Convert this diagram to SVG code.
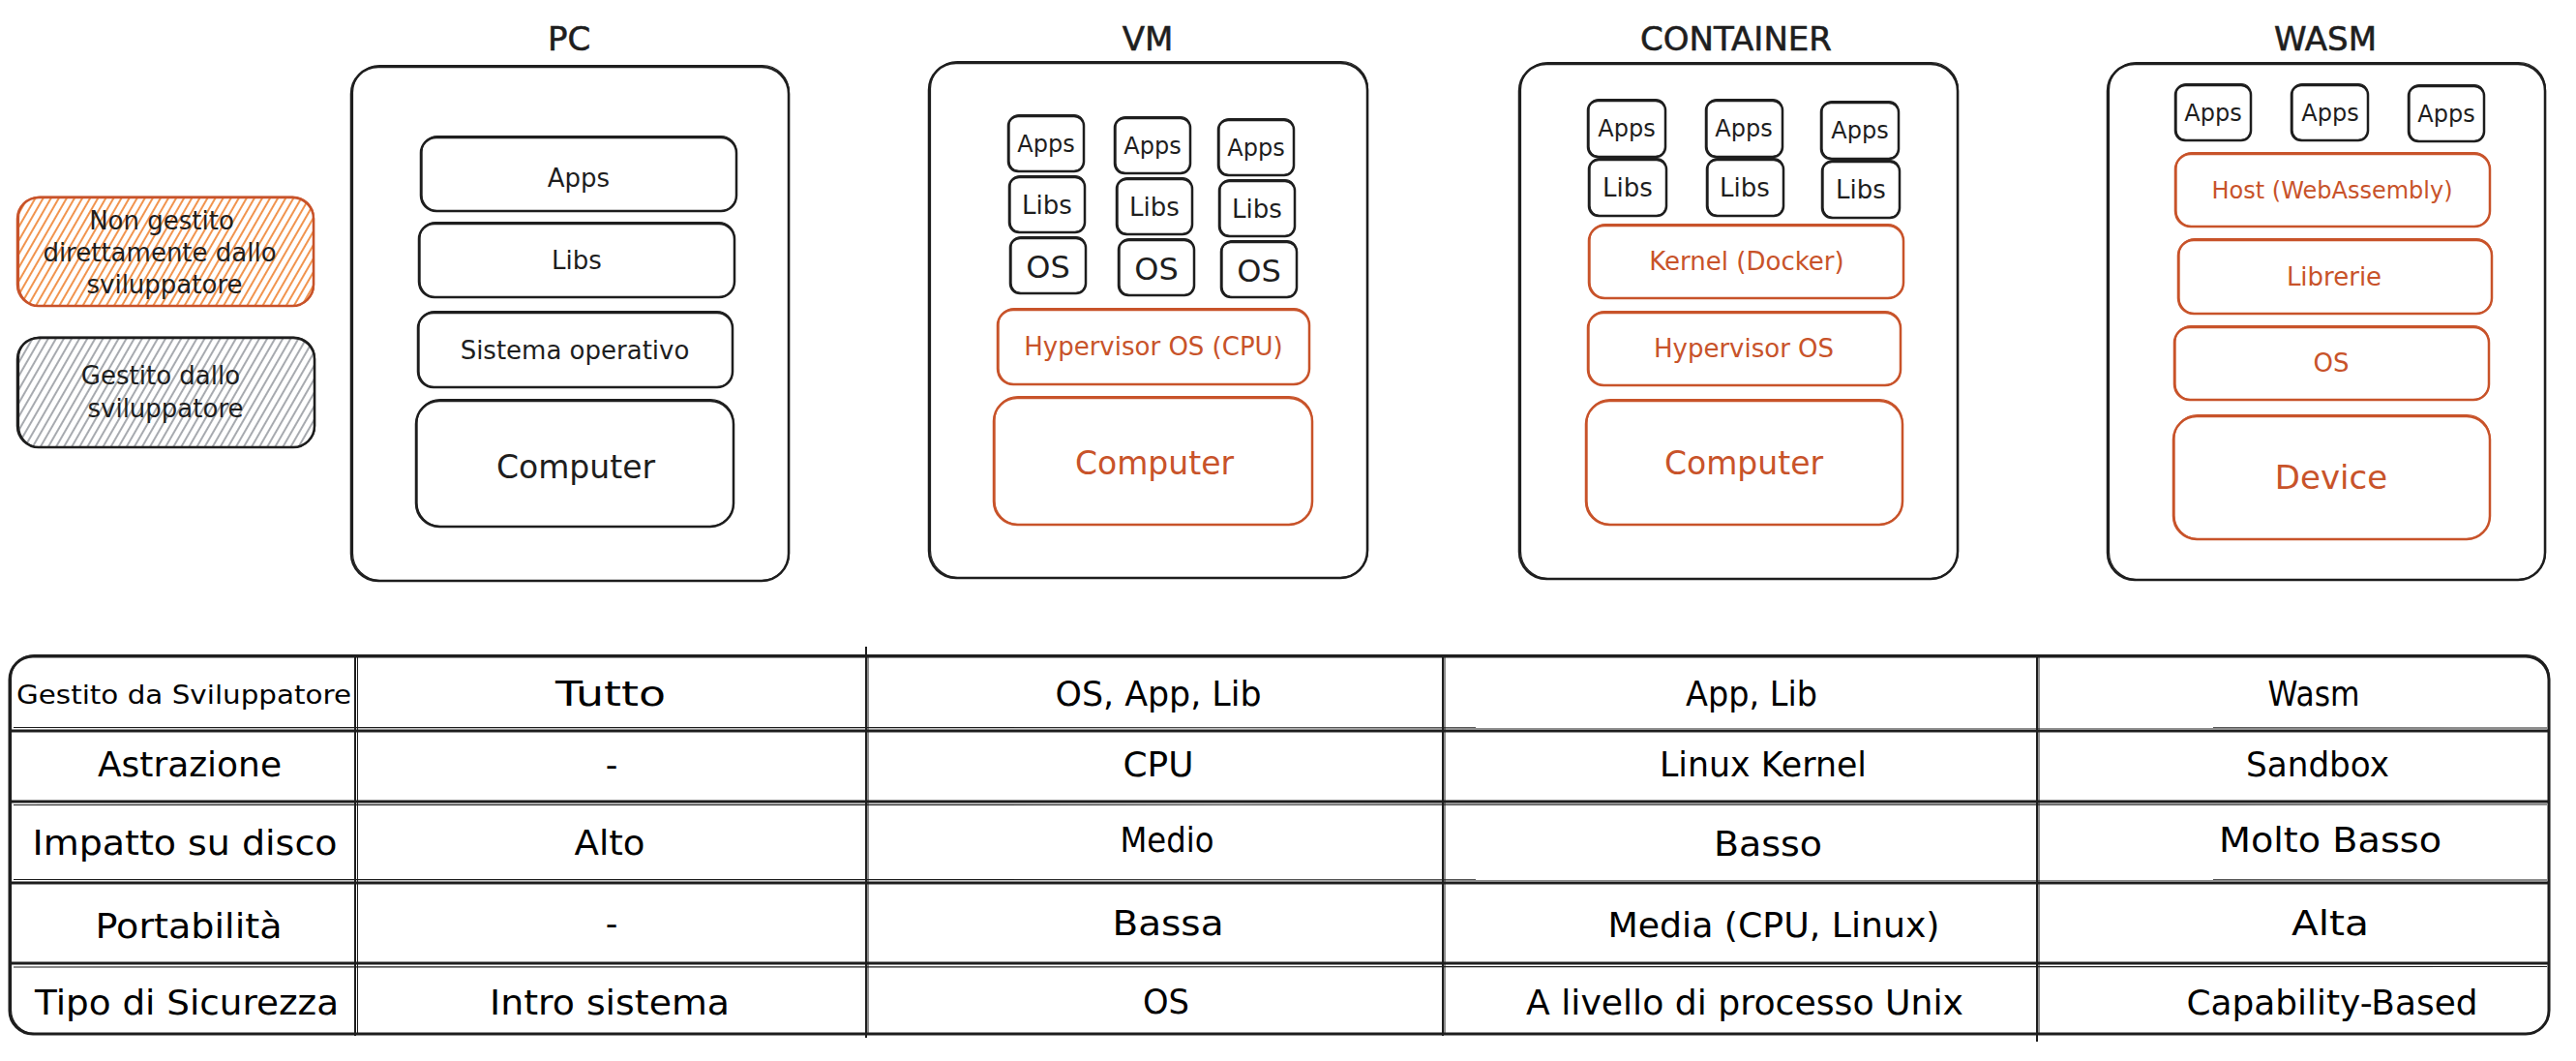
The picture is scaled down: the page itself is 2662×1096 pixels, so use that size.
<svg xmlns="http://www.w3.org/2000/svg" width="2662" height="1096" viewBox="0 0 2662 1096">
<style>
.t{font-family:"DejaVu Sans","Liberation Sans",sans-serif;text-anchor:middle;fill:#1e1e1e}
.o{fill:#c8532a}
.k{fill:#fff;stroke:#1e1e1e;stroke-width:2.5}
.k2{fill:none;stroke:#1e1e1e;stroke-width:1.2}
.r{fill:#fff;stroke:#c8532a;stroke-width:2.5}
.r2{fill:none;stroke:#c8532a;stroke-width:1.2}
.ln{stroke:#1e1e1e;fill:none}
.title{font-size:34px;stroke:#1e1e1e;stroke-width:0.6}
.s24{font-size:24px}
.s26{font-size:26px}
.s33{font-size:33px}
.tb{font-size:35px;fill:#000}
</style>
<defs>
<pattern id="hO" width="7" height="7" patternUnits="userSpaceOnUse" patternTransform="rotate(30)">
<line x1="1" y1="0" x2="1" y2="7" stroke="#f0883a" stroke-width="1.8"/>
</pattern>
<pattern id="hG" width="7" height="7" patternUnits="userSpaceOnUse" patternTransform="rotate(30)">
<line x1="1" y1="0" x2="1" y2="7" stroke="#8a8e94" stroke-width="1.5"/>
</pattern>
</defs>

<g id="legend-unmanaged">
<rect x="18" y="204" width="306" height="112" rx="22" fill="url(#hO)" stroke="#c8532a" stroke-width="2.5"/>
<rect x="19.5" y="203" width="305" height="113" rx="22" class="r2"/>
<text class="t s26" x="167" y="237">Non gestito</text>
<text class="t s26" x="165" y="270">direttamente dallo</text>
<text class="t s26" x="170" y="303">sviluppatore</text>
</g>

<g id="legend-managed">
<rect x="18" y="349" width="307" height="113" rx="22" fill="url(#hG)" stroke="#1e1e1e" stroke-width="2.5"/>
<rect x="19.5" y="348" width="306" height="114" rx="22" class="k2"/>
<text class="t s26" x="166" y="397">Gestito dallo</text>
<text class="t s26" x="171" y="431">sviluppatore</text>
</g>

<g id="pc">
<text class="t title" x="588" y="52">PC</text>
<rect class="k" x="363" y="69" width="452" height="531" rx="28"/>
<rect class="k2" x="364.5" y="67.5" width="451" height="532" rx="28"/>
<rect class="k" x="435" y="142" width="326" height="76" rx="16"/>
<rect class="k2" x="436" y="140.5" width="325" height="77" rx="16"/>
<text class="t s26" x="598" y="193">Apps</text>
<rect class="k" x="433" y="231" width="326" height="76" rx="16"/>
<rect class="k2" x="434" y="229.5" width="325" height="77" rx="16"/>
<text class="t s26" x="596" y="278">Libs</text>
<rect class="k" x="432" y="323" width="325" height="77" rx="16"/>
<rect class="k2" x="433" y="321.5" width="324" height="78" rx="16"/>
<text class="t s26" x="594" y="371">Sistema operativo</text>
<rect class="k" x="430" y="414" width="328" height="130" rx="24"/>
<rect class="k2" x="431" y="412.5" width="327" height="131" rx="24"/>
<text class="t s33" x="595" y="494">Computer</text>
</g>

<g id="vm">
<text class="t title" x="1186" y="52">VM</text>
<rect class="k" x="960" y="65" width="453" height="532" rx="28"/>
<rect class="k2" x="961.5" y="63.5" width="452" height="533" rx="28"/>
<rect class="k" x="1042" y="120" width="78" height="57" rx="10"/><rect class="k2" x="1043" y="118.5" width="77" height="58" rx="10"/>
<text class="t s24" x="1081" y="157">Apps</text>
<rect class="k" x="1152" y="122" width="78" height="57" rx="10"/><rect class="k2" x="1153" y="120.5" width="77" height="58" rx="10"/>
<text class="t s24" x="1191" y="159">Apps</text>
<rect class="k" x="1259" y="124" width="78" height="57" rx="10"/><rect class="k2" x="1260" y="122.5" width="77" height="58" rx="10"/>
<text class="t s24" x="1298" y="161">Apps</text>
<rect class="k" x="1043" y="183" width="78" height="57" rx="10"/><rect class="k2" x="1044" y="181.5" width="77" height="58" rx="10"/>
<text class="t s26" x="1082" y="221">Libs</text>
<rect class="k" x="1154" y="185" width="78" height="57" rx="10"/><rect class="k2" x="1155" y="183.5" width="77" height="58" rx="10"/>
<text class="t s26" x="1193" y="223">Libs</text>
<rect class="k" x="1260" y="187" width="78" height="57" rx="10"/><rect class="k2" x="1261" y="185.5" width="77" height="58" rx="10"/>
<text class="t s26" x="1299" y="225">Libs</text>
<rect class="k" x="1044" y="246" width="78" height="57" rx="10"/><rect class="k2" x="1045" y="244.5" width="77" height="58" rx="10"/>
<text class="t" style="font-size:32px" x="1083" y="287">OS</text>
<rect class="k" x="1156" y="248" width="78" height="57" rx="10"/><rect class="k2" x="1157" y="246.5" width="77" height="58" rx="10"/>
<text class="t" style="font-size:32px" x="1195" y="289">OS</text>
<rect class="k" x="1262" y="250" width="78" height="57" rx="10"/><rect class="k2" x="1263" y="248.5" width="77" height="58" rx="10"/>
<text class="t" style="font-size:32px" x="1301" y="291">OS</text>
<rect class="r" x="1031" y="320" width="322" height="77" rx="16"/>
<rect class="r2" x="1032" y="318.5" width="321" height="78" rx="16"/>
<text class="t s26 o" x="1192" y="367">Hypervisor OS (CPU)</text>
<rect class="r" x="1027" y="411" width="329" height="131" rx="24"/>
<rect class="r2" x="1028" y="409.5" width="328" height="132" rx="24"/>
<text class="t s33 o" x="1193" y="490">Computer</text>
</g>

<g id="container">
<text class="t title" x="1794" y="52">CONTAINER</text>
<rect class="k" x="1570" y="66" width="453" height="532" rx="28"/>
<rect class="k2" x="1571.5" y="64.5" width="452" height="533" rx="28"/>
<rect class="k" x="1641" y="104" width="80" height="58" rx="10"/><rect class="k2" x="1642" y="102.5" width="79" height="59" rx="10"/>
<text class="t s24" x="1681" y="141">Apps</text>
<rect class="k" x="1763" y="104" width="79" height="58" rx="10"/><rect class="k2" x="1764" y="102.5" width="78" height="59" rx="10"/>
<text class="t s24" x="1802" y="141">Apps</text>
<rect class="k" x="1882" y="106" width="80" height="58" rx="10"/><rect class="k2" x="1883" y="104.5" width="79" height="59" rx="10"/>
<text class="t s24" x="1922" y="143">Apps</text>
<rect class="k" x="1642" y="165" width="80" height="58" rx="10"/><rect class="k2" x="1643" y="163.5" width="79" height="59" rx="10"/>
<text class="t s26" x="1682" y="203">Libs</text>
<rect class="k" x="1764" y="165" width="79" height="58" rx="10"/><rect class="k2" x="1765" y="163.5" width="78" height="59" rx="10"/>
<text class="t s26" x="1803" y="203">Libs</text>
<rect class="k" x="1883" y="167" width="80" height="58" rx="10"/><rect class="k2" x="1884" y="165.5" width="79" height="59" rx="10"/>
<text class="t s26" x="1923" y="205">Libs</text>
<rect class="r" x="1642" y="233" width="325" height="75" rx="16"/>
<rect class="r2" x="1643" y="231.5" width="324" height="76" rx="16"/>
<text class="t s26 o" x="1805" y="279">Kernel (Docker)</text>
<rect class="r" x="1641" y="323" width="323" height="75" rx="16"/>
<rect class="r2" x="1642" y="321.5" width="322" height="76" rx="16"/>
<text class="t s26 o" x="1802" y="369">Hypervisor OS</text>
<rect class="r" x="1639" y="414" width="327" height="128" rx="24"/>
<rect class="r2" x="1640" y="412.5" width="326" height="129" rx="24"/>
<text class="t s33 o" x="1802" y="490">Computer</text>
</g>

<g id="wasm">
<text class="t title" x="2403" y="52">WASM</text>
<rect class="k" x="2178" y="66" width="452" height="533" rx="28"/>
<rect class="k2" x="2179.5" y="64.5" width="451" height="534" rx="28"/>
<rect class="k" x="2248" y="88" width="78" height="57" rx="10"/><rect class="k2" x="2249" y="86.5" width="77" height="58" rx="10"/>
<text class="t s24" x="2287" y="125">Apps</text>
<rect class="k" x="2368" y="88" width="79" height="57" rx="10"/><rect class="k2" x="2369" y="86.5" width="78" height="58" rx="10"/>
<text class="t s24" x="2408" y="125">Apps</text>
<rect class="k" x="2489" y="89" width="78" height="57" rx="10"/><rect class="k2" x="2490" y="87.5" width="77" height="58" rx="10"/>
<text class="t s24" x="2528" y="126">Apps</text>
<rect class="r" x="2248" y="159" width="325" height="75" rx="16"/>
<rect class="r2" x="2249" y="157.5" width="324" height="76" rx="16"/>
<text class="t s24 o" x="2410" y="205">Host (WebAssembly)</text>
<rect class="r" x="2251" y="248" width="324" height="76" rx="16"/>
<rect class="r2" x="2252" y="246.5" width="323" height="77" rx="16"/>
<text class="t s26 o" x="2412" y="295">Librerie</text>
<rect class="r" x="2247" y="338" width="325" height="75" rx="16"/>
<rect class="r2" x="2248" y="336.5" width="324" height="76" rx="16"/>
<text class="t s26 o" x="2409" y="384">OS</text>
<rect class="r" x="2246" y="430" width="327" height="127" rx="24"/>
<rect class="r2" x="2247" y="428.5" width="326" height="128" rx="24"/>
<text class="t o" style="font-size:34px" x="2409" y="505">Device</text>
</g>

<g id="connectors"></g>

<g id="table">
<rect x="10" y="678" width="2624" height="390" rx="24" class="ln" stroke-width="3" fill="#fff"/>
<rect x="11.5" y="676.5" width="2623" height="391" rx="24" class="ln" stroke-width="1.2"/>
<g class="ln" stroke-width="3">
<line x1="10" y1="755" x2="2634" y2="755"/>
<line x1="10" y1="828" x2="2634" y2="828"/>
<line x1="10" y1="912" x2="2634" y2="912"/>
<line x1="10" y1="995" x2="2634" y2="995"/>
</g>
<g class="ln" stroke-width="1.2">
<line x1="14" y1="751.5" x2="2632" y2="752"/>
<line x1="14" y1="831.5" x2="2632" y2="831"/>
<line x1="14" y1="908.5" x2="2632" y2="909"/>
<line x1="14" y1="999" x2="2632" y2="998.5"/>
</g>
<g class="ln" stroke-width="2">
<line x1="367" y1="676" x2="367" y2="1070"/>
<line x1="895" y1="668" x2="895" y2="1072"/>
<line x1="1491" y1="676" x2="1491" y2="1070"/>
<line x1="2105" y1="676" x2="2105" y2="1076"/>
</g>
<g class="ln" stroke-width="1">
<line x1="369.5" y1="678" x2="369.5" y2="1068"/>
<line x1="897" y1="678" x2="897" y2="1068"/>
<line x1="1493" y1="678" x2="1493" y2="1068"/>
<line x1="2107" y1="678" x2="2107" y2="1068"/>
</g>
<text class="t tb" style="font-size:27px" x="190" y="727" textLength="346" lengthAdjust="spacingAndGlyphs">Gestito da Sviluppatore</text>
<text class="t tb" x="631" y="729" textLength="114" lengthAdjust="spacingAndGlyphs">Tutto</text>
<text class="t tb" x="1197" y="729" textLength="213" lengthAdjust="spacingAndGlyphs">OS, App, Lib</text>
<text class="t tb" x="1810" y="729" textLength="136" lengthAdjust="spacingAndGlyphs">App, Lib</text>
<text class="t tb" x="2391" y="729" textLength="95" lengthAdjust="spacingAndGlyphs">Wasm</text>

<text class="t tb" x="196" y="802" textLength="190" lengthAdjust="spacingAndGlyphs">Astrazione</text>
<text class="t tb" x="632" y="802">-</text>
<text class="t tb" x="1197" y="802" textLength="73" lengthAdjust="spacingAndGlyphs">CPU</text>
<text class="t tb" x="1822" y="802" textLength="214" lengthAdjust="spacingAndGlyphs">Linux Kernel</text>
<text class="t tb" x="2395" y="802" textLength="148" lengthAdjust="spacingAndGlyphs">Sandbox</text>

<text class="t tb" x="191" y="883" textLength="315" lengthAdjust="spacingAndGlyphs">Impatto su disco</text>
<text class="t tb" x="630" y="883" textLength="73" lengthAdjust="spacingAndGlyphs">Alto</text>
<text class="t tb" x="1206" y="880" textLength="97" lengthAdjust="spacingAndGlyphs">Medio</text>
<text class="t tb" x="1827" y="884" textLength="112" lengthAdjust="spacingAndGlyphs">Basso</text>
<text class="t tb" x="2408" y="880" textLength="230" lengthAdjust="spacingAndGlyphs">Molto Basso</text>

<text class="t tb" x="195" y="969" textLength="193" lengthAdjust="spacingAndGlyphs">Portabilità</text>
<text class="t tb" x="632" y="966">-</text>
<text class="t tb" x="1207" y="966" textLength="115" lengthAdjust="spacingAndGlyphs">Bassa</text>
<text class="t tb" x="1833" y="968" textLength="343" lengthAdjust="spacingAndGlyphs">Media (CPU, Linux)</text>
<text class="t tb" x="2408" y="966" textLength="80" lengthAdjust="spacingAndGlyphs">Alta</text>

<text class="t tb" x="193" y="1048" textLength="314" lengthAdjust="spacingAndGlyphs">Tipo di Sicurezza</text>
<text class="t tb" x="630" y="1048" textLength="248" lengthAdjust="spacingAndGlyphs">Intro sistema</text>
<text class="t tb" x="1205" y="1047" textLength="48" lengthAdjust="spacingAndGlyphs">OS</text>
<text class="t tb" x="1803" y="1048" textLength="452" lengthAdjust="spacingAndGlyphs">A livello di processo Unix</text>
<text class="t tb" x="2410" y="1048" textLength="301" lengthAdjust="spacingAndGlyphs">Capability-Based</text>
</g>
</svg>
